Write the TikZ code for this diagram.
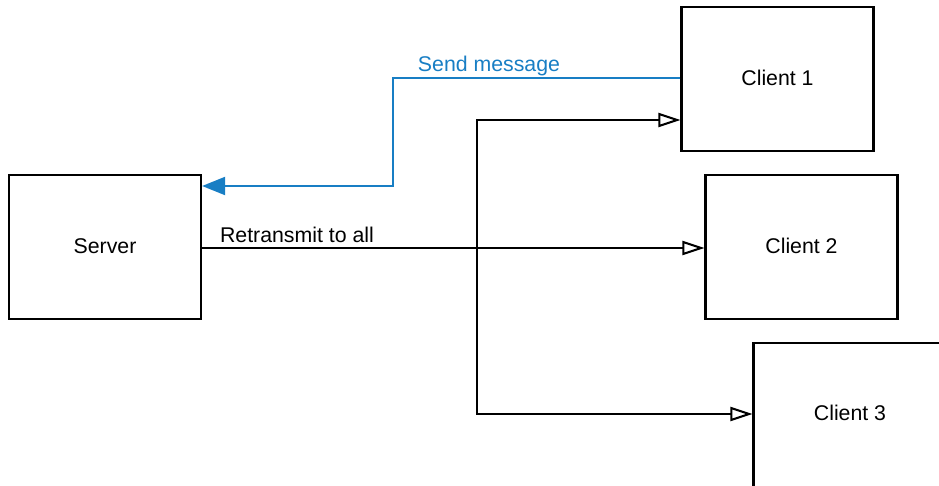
\documentclass[tikz,border=0pt]{standalone}
\usepackage{fontspec}
\setmainfont{Liberation Sans}
\usetikzlibrary{arrows.meta}
\definecolor{msgblue}{RGB}{24,126,196}
\newcommand{\boxtext}[1]{\raisebox{2pt}{#1}}
\tikzset{
  box/.style={draw=black, line width=2.2pt, minimum width=192pt, minimum height=144pt,
              inner sep=0pt, font=\fontsize{21.3}{25}\selectfont},
  link/.style={draw=black, line width=2pt},
  openhead/.style={-{Triangle[open, fill=white, length=22pt, width=14pt, line width=2pt]}},
  msg/.style={draw=msgblue, line width=2pt, -{Triangle[length=23pt, width=18pt]}},
  lbl/.style={font=\fontsize{21.3}{25}\selectfont, inner sep=0pt}
}
\begin{document}
\begin{tikzpicture}[x=1pt, y=-1pt]
  \useasboundingbox (0,0) rectangle (939,486);
  \begin{scope}
    \clip (0,0) rectangle (939,486);
    % boxes
    \node[box] (server)  at (105,247) {\boxtext{Server}};
    \node[box] (client1) at (777.5,79) {\boxtext{Client 1}};
    \node[box] (client2) at (801.5,247) {\boxtext{Client 2}};
    \node[box] (client3) at (849.5,415) {};
    \node[lbl] (c3text) at (850,413) {Client 3};
    % branching point of the retransmission
    \coordinate (split) at (477,248);
    \coordinate (top)   at (477,120);
    \coordinate (bot)   at (477,414);
    % retransmission to every client
    \draw[link, openhead] (server.east |- split) -- (client2.west |- split);
    \draw[link, openhead, line join=miter] (split) -- (top) -- (client1.west |- top);
    \draw[link, openhead, line join=miter] (split) -- (bot) -- (client3.west |- bot);
    % incoming message from client 1
    \draw[msg, line join=miter] (client1.west |- 0,78) -- (393,78) -- (393,186) -- (server.east |- 0,186);
  \end{scope}
  % labels
  \node[lbl, text=msgblue] (sendlbl) at (489,66) {Send message};
  \node[lbl] (retlbl) at (297,235) {Retransmit to all};
\end{tikzpicture}
\end{document}
